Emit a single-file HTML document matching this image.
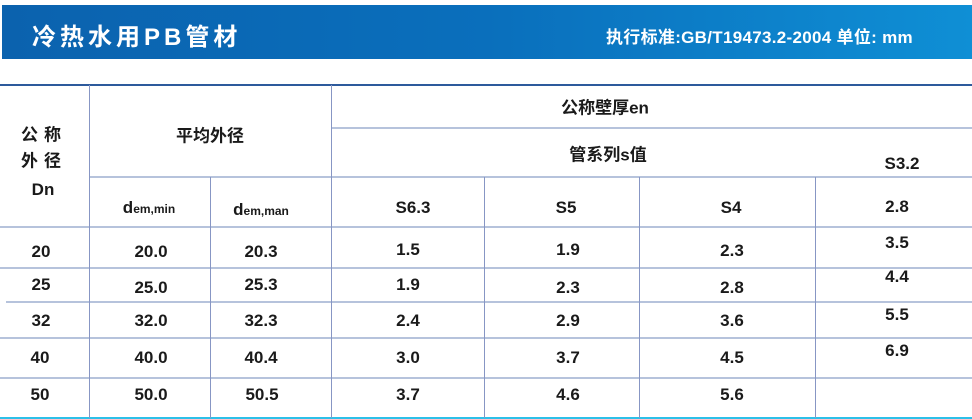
<!DOCTYPE html>
<html><head><meta charset="utf-8"><style>
body{margin:0;width:972px;height:419px;background:#fff;position:relative;overflow:hidden;font-family:"Liberation Sans","Noto Sans CJK SC",sans-serif;color:#111}
.b{position:absolute;left:2px;top:5px;width:970px;height:54px;background:linear-gradient(90deg,#0b62ae,#0a6fbc 50%,#0f8fd5)}
.t{position:absolute;left:32px;top:17px;color:#fff;font-size:24px;letter-spacing:4px;font-weight:bold}
.s{position:absolute;left:606px;top:23px;color:#fff;font-size:17px;font-weight:bold;letter-spacing:0.3px}
.h{position:absolute;height:2px;background:#b6c3dc}
.v{position:absolute;width:1px;background:#8796c4}
.x{position:absolute;font-size:17px;transform:translate(-50%,-50%);white-space:nowrap;font-weight:bold;color:#1a1a1a}
sub{font-size:12px;vertical-align:baseline}
</style></head><body>
<div class="b"></div>
<div class="t">冷热水用PB管材</div>
<div class="s">执行标准:GB/T19473.2-2004 单位: mm</div>
<div class="h" style="left:0;top:84px;width:972px;background:#2d5a9c"></div>
<div class="h" style="left:331px;top:127px;width:641px"></div>
<div class="h" style="left:89px;top:176px;width:883px"></div>
<div class="h" style="left:0;top:226px;width:972px"></div>
<div class="h" style="left:0;top:267px;width:972px"></div>
<div class="h" style="left:6px;top:301px;width:966px"></div>
<div class="h" style="left:0;top:337px;width:972px"></div>
<div class="h" style="left:0;top:377px;width:972px"></div>
<div class="h" style="left:0;top:417px;width:972px;background:#2cc0e8"></div>
<div class="v" style="left:89px;top:85px;height:333px"></div>
<div class="v" style="left:210px;top:177px;height:241px"></div>
<div class="v" style="left:331px;top:85px;height:333px"></div>
<div class="v" style="left:484px;top:177px;height:241px"></div>
<div class="v" style="left:639px;top:177px;height:241px"></div>
<div class="v" style="left:815px;top:177px;height:241px"></div>
<div class="x" style="left:44px;top:133px;letter-spacing:6px">公称</div>
<div class="x" style="left:44px;top:159px;letter-spacing:6px">外径</div>
<div class="x" style="left:43px;top:190px">Dn</div>
<div class="x" style="left:210px;top:134px">平均外径</div>
<div class="x" style="left:605px;top:106px">公称壁厚en</div>
<div class="x" style="left:608px;top:153px">管系列s值</div>
<div class="x" style="left:902px;top:164px">S3.2</div>
<div class="x" style="left:149px;top:208px">d<sub>em,min</sub></div>
<div class="x" style="left:261px;top:210px">d<sub>em,man</sub></div>
<div class="x" style="left:413px;top:208px">S6.3</div>
<div class="x" style="left:566px;top:208px">S5</div>
<div class="x" style="left:731px;top:208px">S4</div>
<div class="x" style="left:897px;top:207px">2.8</div>
<div class="x" style="left:41px;top:252px">20</div><div class="x" style="left:151px;top:252px">20.0</div><div class="x" style="left:261px;top:252px">20.3</div><div class="x" style="left:408px;top:250px">1.5</div><div class="x" style="left:568px;top:250px">1.9</div><div class="x" style="left:732px;top:251px">2.3</div><div class="x" style="left:897px;top:243px">3.5</div>
<div class="x" style="left:41px;top:285px">25</div><div class="x" style="left:151px;top:288px">25.0</div><div class="x" style="left:261px;top:285px">25.3</div><div class="x" style="left:408px;top:285px">1.9</div><div class="x" style="left:568px;top:288px">2.3</div><div class="x" style="left:732px;top:288px">2.8</div><div class="x" style="left:897px;top:277px">4.4</div>
<div class="x" style="left:41px;top:321px">32</div><div class="x" style="left:151px;top:321px">32.0</div><div class="x" style="left:261px;top:321px">32.3</div><div class="x" style="left:408px;top:321px">2.4</div><div class="x" style="left:568px;top:321px">2.9</div><div class="x" style="left:732px;top:321px">3.6</div><div class="x" style="left:897px;top:315px">5.5</div>
<div class="x" style="left:40px;top:358px">40</div><div class="x" style="left:151px;top:358px">40.0</div><div class="x" style="left:261px;top:358px">40.4</div><div class="x" style="left:408px;top:358px">3.0</div><div class="x" style="left:568px;top:358px">3.7</div><div class="x" style="left:732px;top:358px">4.5</div><div class="x" style="left:897px;top:351px">6.9</div>
<div class="x" style="left:40px;top:395px">50</div><div class="x" style="left:151px;top:395px">50.0</div><div class="x" style="left:262px;top:395px">50.5</div><div class="x" style="left:408px;top:395px">3.7</div><div class="x" style="left:568px;top:395px">4.6</div><div class="x" style="left:732px;top:395px">5.6</div>
</body></html>
